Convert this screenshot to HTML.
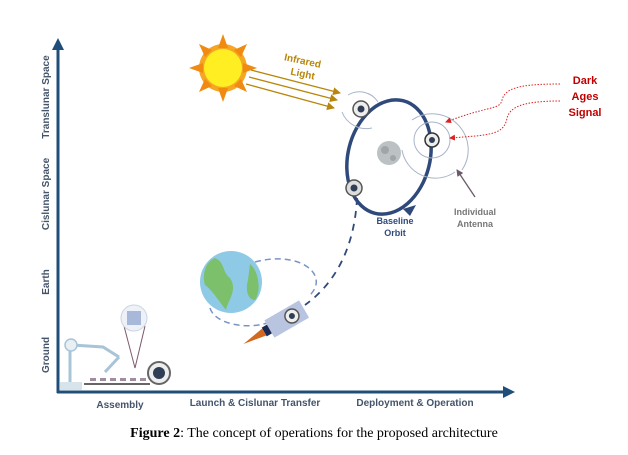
<!DOCTYPE html>
<html><head><meta charset="utf-8"><style>
html,body{margin:0;padding:0;background:#fff;}
svg{display:block;}
text{font-family:"Liberation Sans",sans-serif;}
</style></head><body>
<svg width="628" height="455" viewBox="0 0 628 455" xmlns="http://www.w3.org/2000/svg">
<defs>
<marker id="ah" markerWidth="8" markerHeight="8" refX="7" refY="4" orient="auto" markerUnits="userSpaceOnUse"><path d="M0,0 L8,4 L0,8z" fill="#b8860b"/></marker>
<marker id="ar" markerWidth="6" markerHeight="6" refX="5" refY="3" orient="auto" markerUnits="userSpaceOnUse"><path d="M0,0 L6,3 L0,6z" fill="#e02020"/></marker>
<marker id="ag" markerWidth="7" markerHeight="7" refX="6" refY="3.5" orient="auto" markerUnits="userSpaceOnUse"><path d="M0,0 L7,3.5 L0,7z" fill="#6a5a6a"/></marker>
</defs>
<path d="M58,393 V48" stroke="#1f4e79" stroke-width="3" fill="none"/>
<path d="M52,50 L58,38 L64,50z" fill="#1f4e79"/>
<path d="M57,392 H505" stroke="#1f4e79" stroke-width="3" fill="none"/>
<path d="M503,386 L515,392 L503,398z" fill="#1f4e79"/>
<g font-size="10" font-weight="bold" fill="#44546a" text-anchor="middle">
<text transform="translate(49,97) rotate(-90)">Translunar Space</text>
<text transform="translate(49,194) rotate(-90)">Cislunar Space</text>
<text transform="translate(49,282) rotate(-90)">Earth</text>
<text transform="translate(49,355) rotate(-90)">Ground</text>
<text x="120" y="408">Assembly</text>
<text x="255" y="406">Launch &amp; Cislunar Transfer</text>
<text x="415" y="406">Deployment &amp; Operation</text>
</g>
<text x="314" y="437" text-anchor="middle" font-size="14" fill="#000" style="font-family:'Liberation Serif',serif"><tspan font-weight="bold">Figure 2</tspan>: The concept of operations for the proposed architecture</text>
<g transform="translate(223,68)">
<circle r="24" fill="#f5a623"/>
<g fill="#f08a10">
<path d="M0,-34 L5,-20 L-5,-20z"/><path d="M0,34 L5,20 L-5,20z"/><path d="M-34,0 L-20,5 L-20,-5z"/><path d="M34,0 L20,5 L20,-5z"/>
<path d="M24,-24 L11,-18 L18,-11z"/><path d="M-24,-24 L-11,-18 L-18,-11z"/><path d="M24,24 L11,18 L18,11z"/><path d="M-24,24 L-11,18 L-18,11z"/>
</g>
<circle r="19" fill="#ffee22"/>
</g>
<g stroke="#b8860b" stroke-width="1.3" fill="none">
<path d="M251,70 L340,93" marker-end="url(#ah)"/>
<path d="M249,77 L337,100" marker-end="url(#ah)"/>
<path d="M246,84 L334,108" marker-end="url(#ah)"/>
</g>
<text x="302" y="64" font-size="10" font-weight="bold" fill="#b8860b" text-anchor="middle" transform="rotate(12 302 64)">Infrared</text>
<text x="302" y="77" font-size="10" font-weight="bold" fill="#b8860b" text-anchor="middle" transform="rotate(12 302 77)">Light</text>
<ellipse cx="389" cy="157" rx="41" ry="58" transform="rotate(14 389 157)" fill="none" stroke="#2f4a7a" stroke-width="3.5"/>
<path d="M403,209 L416,205 L410,216z" fill="#2f4a7a"/>
<circle cx="389" cy="153" r="12" fill="#bcc2c4"/><circle cx="385" cy="150" r="4" fill="#a0a6a8"/><circle cx="393" cy="158" r="3" fill="#a0a6a8"/>
<text x="395" y="224" font-size="9" font-weight="bold" fill="#2f4a7a" text-anchor="middle">Baseline</text>
<text x="395" y="236" font-size="9" font-weight="bold" fill="#2f4a7a" text-anchor="middle">Orbit</text>
<g fill="none" stroke="#a8b4c8" stroke-width="1">
<path d="M348,95 A22,22 0 0 1 378,102"/><path d="M342,112 A26,26 0 0 0 372,128"/>
<circle cx="432" cy="140" r="18"/><path d="M412,120 A36,36 0 0 1 462,170" /><path d="M402,150 A34,34 0 0 0 455,172"/>
</g>
<g>
<circle cx="361" cy="109" r="8" fill="#eee" stroke="#555" stroke-width="1.5"/><circle cx="361" cy="109" r="3.5" fill="#2f3e55"/>
<circle cx="432" cy="140" r="7" fill="#eee" stroke="#333" stroke-width="1.5"/><circle cx="432" cy="140" r="3" fill="#2f3e55"/>
<circle cx="354" cy="188" r="8" fill="#ddd" stroke="#555" stroke-width="1.5"/><circle cx="354" cy="188" r="3.5" fill="#2f3e55"/>
</g>
<path d="M357,198 C355,240 340,280 305,305" stroke="#2f4a7a" stroke-width="1.8" stroke-dasharray="7,6" fill="none"/>
<path d="M560,84 C520,84 505,88 502,100 C500,110 490,105 446,122" stroke="#e02020" stroke-width="1" stroke-dasharray="1.5,1.5" fill="none" marker-end="url(#ar)"/>
<path d="M560,101 C520,101 510,108 507,118 C504,135 490,135 450,138" stroke="#e02020" stroke-width="1" stroke-dasharray="1.5,1.5" fill="none" marker-end="url(#ar)"/>
<g font-size="11" font-weight="bold" fill="#c00000" text-anchor="middle">
<text x="585" y="84">Dark</text><text x="585" y="100">Ages</text><text x="585" y="116">Signal</text>
</g>
<path d="M475,197 L457,170" stroke="#6a5a6a" stroke-width="1.3" marker-end="url(#ag)"/>
<text x="475" y="215" font-size="9" font-weight="bold" fill="#777" text-anchor="middle">Individual</text>
<text x="475" y="227" font-size="9" font-weight="bold" fill="#777" text-anchor="middle">Antenna</text>
<path d="M255,262 C300,250 330,275 310,295" stroke="#7a94c8" stroke-width="1.5" stroke-dasharray="6,4" fill="none"/>
<path d="M210,308 C215,325 250,330 270,322" stroke="#7a94c8" stroke-width="1.5" stroke-dasharray="6,4" fill="none"/>
<circle cx="231" cy="282" r="31" fill="#8ecae6"/>
<path d="M215,258 C225,262 222,272 230,278 C238,290 228,300 226,310 C218,300 212,290 205,285 C202,275 205,262 215,258z" fill="#7cc06c"/>
<path d="M250,264 C258,270 262,290 255,300 C248,300 245,290 248,280z" fill="#7cc06c"/>
<g transform="translate(285,320) rotate(-30)">
<rect x="-18" y="-10" width="40" height="20" fill="#b8c4e0"/>
<circle cx="8" cy="0" r="7" fill="#eee" stroke="#555" stroke-width="1.5"/><circle cx="8" cy="0" r="3" fill="#2f3e55"/>
<rect x="-24" y="-5" width="6" height="10" fill="#1a2a55"/>
<path d="M-24,-4 L-48,0 L-24,4z" fill="#d2691e"/>
</g>
<g stroke="#a8c4d8" stroke-width="3" fill="none">
<path d="M70,385 V345"/><path d="M72,345 L103,347 L119,357"/><path d="M119,357 L105,372"/>
</g>
<circle cx="71" cy="345" r="6" fill="#e8f0f4" stroke="#a8c4d8" stroke-width="1.5"/>
<rect x="60" y="382" width="22" height="8" fill="#d8e4ec"/>
<path d="M84,384 H150" stroke="#333" stroke-width="1.5"/>
<g fill="#a08ea0"><rect x="90" y="378" width="6" height="3"/><rect x="100" y="378" width="6" height="3"/><rect x="110" y="378" width="6" height="3"/><rect x="120" y="378" width="6" height="3"/><rect x="130" y="378" width="6" height="3"/><rect x="140" y="378" width="6" height="3"/></g>
<circle cx="159" cy="373" r="11" fill="#eee" stroke="#666" stroke-width="2"/><circle cx="159" cy="373" r="6" fill="#2f3e55"/>
<path d="M124,326 L135,368 L145,326" stroke="#7a5a6a" stroke-width="1" fill="none"/>
<circle cx="134" cy="318" r="13" fill="#eef2f8" stroke="#c8d4e4"/>
<rect x="127" y="311" width="14" height="14" fill="#a8b8d8"/>
</svg>
</body></html>
